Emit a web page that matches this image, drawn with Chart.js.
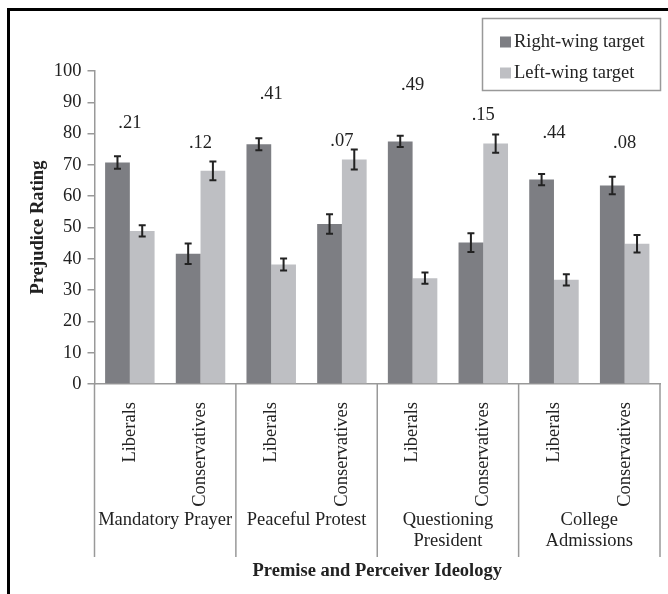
<!DOCTYPE html>
<html>
<head>
<meta charset="utf-8">
<script src="https://cdn.jsdelivr.net/npm/chart.js@4.4.1/dist/chart.umd.min.js"></script>
<style>
    body { margin: 0; background: #fff; }
    canvas { display: block; }
</style>
</head>
<body>
<canvas id="myChart" width="668" height="594"></canvas>
<script>
var categories = ['Liberals', 'Conservatives', 'Liberals', 'Conservatives',
                  'Liberals', 'Conservatives', 'Liberals', 'Conservatives'];
var premises = [['Mandatory Prayer'], ['Peaceful Protest'], ['Questioning', 'President'], ['College', 'Admissions']];
var rightWing = [70.8, 41.6, 76.6, 51.1, 77.5, 45.2, 65.3, 63.4];
var leftWing = [48.9, 68.1, 38.2, 71.7, 33.8, 76.8, 33.3, 44.8];
var rightErr = [2.0, 3.3, 1.9, 3.1, 1.8, 3.0, 1.8, 2.8];
var leftErr = [1.8, 3.0, 1.9, 3.2, 1.8, 2.9, 1.8, 2.8];
var effects = ['.21', '.12', '.41', '.07', '.49', '.15', '.44', '.08'];
var effectLevels = [83.5, 77, 92.5, 77.5, 95.5, 86, 80, 77];
var yTicks = [0, 10, 20, 30, 40, 50, 60, 70, 80, 90, 100];

var serif = "'Liberation Serif', 'Times New Roman', serif";
Chart.defaults.font.family = serif;
Chart.defaults.font.size = 18.5;
Chart.defaults.color = '#222';

var errs = [rightErr, leftErr];

var extras = {
    id: 'extras',
    beforeDraw: function (chart) {
        var ctx = chart.ctx;
        ctx.save();
        ctx.fillStyle = '#000';
        ctx.fillRect(7, 8, 668, 3);
        ctx.fillRect(7, 8, 3, 600);
        ctx.restore();
    },
    afterDatasetsDraw: function (chart) {
        var ctx = chart.ctx;
        var y = chart.scales.y;
        ctx.save();
        ctx.strokeStyle = '#222';
        ctx.lineWidth = 2;
        chart.data.datasets.forEach(function (ds, di) {
            chart.getDatasetMeta(di).data.forEach(function (bar, i) {
                var top = y.getPixelForValue(ds.data[i] + errs[di][i]);
                var bot = y.getPixelForValue(ds.data[i] - errs[di][i]);
                ctx.beginPath();
                ctx.moveTo(bar.x, top); ctx.lineTo(bar.x, bot);
                ctx.moveTo(bar.x - 3.5, top); ctx.lineTo(bar.x + 3.5, top);
                ctx.moveTo(bar.x - 3.5, bot); ctx.lineTo(bar.x + 3.5, bot);
                ctx.stroke();
            });
        });
        ctx.restore();
    },
    afterDraw: function (chart) {
        var ctx = chart.ctx;
        var x = chart.scales.x, y = chart.scales.y;
        var area = chart.chartArea;
        ctx.save();
        // effect sizes
        ctx.fillStyle = '#222';
        ctx.font = '18.5px ' + serif;
        ctx.textAlign = 'center';
        ctx.textBaseline = 'middle';
        effects.forEach(function (t, i) {
            ctx.fillText(t, x.getPixelForValue(i), y.getPixelForValue(effectLevels[i]));
        });
        // group dividers
        ctx.strokeStyle = '#999';
        ctx.lineWidth = 1.5;
        var edges = [area.left];
        for (var g = 1; g < premises.length; g++) {
            edges.push((x.getPixelForValue(2 * g - 1) + x.getPixelForValue(2 * g)) / 2);
        }
        edges.push(area.right);
        edges.forEach(function (ex) {
            ctx.beginPath();
            ctx.moveTo(ex, area.bottom);
            ctx.lineTo(ex, 557);
            ctx.stroke();
        });
        // group labels
        premises.forEach(function (lines, g) {
            var cx = (x.getPixelForValue(2 * g) + x.getPixelForValue(2 * g + 1)) / 2;
            lines.forEach(function (l, k) {
                ctx.fillText(l, cx, 520 + k * 21);
            });
        });
        // legend
        ctx.strokeStyle = '#999';
        ctx.strokeRect(482.5, 18.5, 178, 72);
        ctx.textAlign = 'left';
        chart.data.datasets.forEach(function (ds, i) {
            var ly = 42 + i * 31;
            ctx.fillStyle = ds.backgroundColor;
            ctx.fillRect(500, ly - 5.5, 11, 11);
            ctx.fillStyle = '#222';
            ctx.fillText(ds.label, 514, ly);
        });
        ctx.restore();
    }
};

var ctx = document.getElementById('myChart').getContext('2d');
var myChart = new Chart(ctx, {
    type: 'bar',
    data: {
        labels: categories,
        datasets: [{
            label: 'Right-wing target',
            data: rightWing,
            backgroundColor: '#7d7e83',
            categoryPercentage: 0.7,
            barPercentage: 1.0
        }, {
            label: 'Left-wing target',
            data: leftWing,
            backgroundColor: '#bebfc3',
            categoryPercentage: 0.7,
            barPercentage: 1.0
        }]
    },
    options: {
        responsive: false,
        animation: false,
        layout: { padding: { left: 10, right: 8, top: 71, bottom: 0 } },
        plugins: {
            legend: { display: false },
            tooltip: { enabled: false }
        },
        scales: {
            y: {
                min: 0,
                max: 100,
                afterFit: function (s) { s.width = 84.5; },
                afterBuildTicks: function (s) {
                    s.ticks = yTicks.map(function (v) { return { value: v }; });
                },
                ticks: { padding: 6, color: '#222' },
                grid: { drawOnChartArea: false, drawTicks: true, tickLength: 7, color: '#999', lineWidth: 1.5 },
                border: { display: true, color: '#999', width: 1.5 },
                title: {
                    display: true,
                    text: 'Prejudice Rating',
                    font: { weight: 'bold', size: 18.5 },
                    padding: { top: 17, bottom: 0 },
                    color: '#222'
                }
            },
            x: {
                afterFit: function (s) { s.height = 210; },
                ticks: { minRotation: 90, maxRotation: 90, autoSkip: false, padding: 10, color: '#222' },
                grid: { display: false },
                border: { display: true, color: '#999', width: 1.5 },
                title: {
                    display: true,
                    text: 'Premise and Perceiver Ideology',
                    font: { weight: 'bold', size: 18.5 },
                    padding: { top: 0, bottom: 12 },
                    color: '#222'
                }
            }
        }
    },
    plugins: [extras]
});
</script>
</body>
</html>
